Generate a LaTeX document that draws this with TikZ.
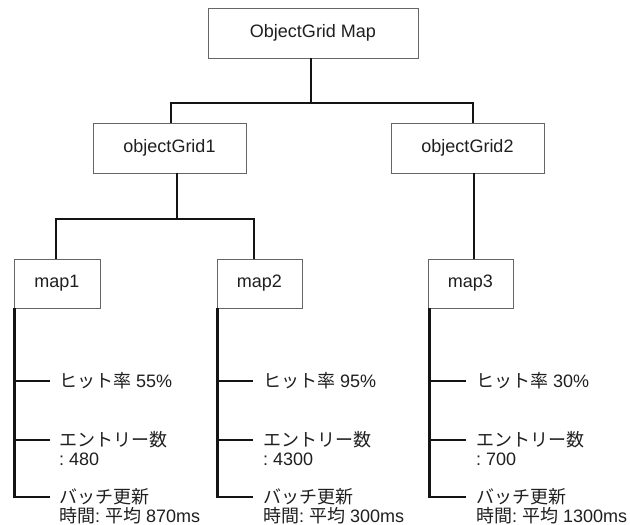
\documentclass[tikz,border=0pt]{standalone}
\usepackage{fontspec}
\setmainfont{Liberation Sans}
\newfontfamily\jp{Noto Sans CJK JP}
\begin{document}
\begin{tikzpicture}[x=1pt,y=-1pt,
  box/.style={draw=black!60,line width=0.9pt,fill=white,inner sep=0pt,
    text=black!88,font=\fontsize{18}{20}\selectfont},
  link/.style={line width=2.4pt,draw=black!92,line join=miter},
  % the base anchor of a two-line item sits on its last line
  item/.style={anchor=base west,inner sep=0pt,align=left,text=black!88,
    font=\fontsize{18}{18.5}\selectfont\frenchspacing}]
\useasboundingbox (0,0) rectangle (630,525);

% tree of grids and maps
\node[box,minimum width=210pt,minimum height=50pt] (root) at (313,33) {ObjectGrid Map\hspace{18pt}};
\node[box,minimum width=153pt,minimum height=50pt] (og1) at (169.5,148) {objectGrid1};
\node[box,minimum width=153pt,minimum height=50pt] (og2) at (467.5,148) {objectGrid2};
\node[box,minimum width=86pt,minimum height=49pt] (map1) at (57,283.5) {map1};
\node[box,minimum width=85pt,minimum height=49pt] (map2) at (259.5,283.5) {map2};
\node[box,minimum width=85pt,minimum height=49pt] (map3) at (470.5,283.5) {map3};

\coordinate (j0) at (311,103);
\coordinate (j1) at (177,219);
\draw[link] ([xshift=-2pt]root.south) -- (j0);
\draw[link] ([xshift=1.5pt]og1.north) |- (j0) -| ([xshift=5.5pt]og2.north);
\draw[link] ([xshift=7.5pt]og1.south) -- (j1);
\draw[link] ([xshift=-1pt]map1.north) |- (j1) -| ([xshift=-5.5pt]map2.north);
\draw[link] ([xshift=6.5pt]og2.south) -- ([xshift=3.5pt]map3.north);

% statistics of map1
\coordinate (e11) at (50,381);
\coordinate (e12) at (50,440);
\coordinate (e13) at (50,497);
\node[item] (t11) at (59,387.8) {{\jp ヒット率} 55\%};
\node[item] (t12) at (59,465.3) {{\jp エントリー数}\\: 480};
\node[item] (t13) at (59,522.3) {{\jp バッチ更新}\\{\jp 時間}: {\jp 平均} 870ms};
\draw[link] ([xshift=1pt]map1.south west) |- (e11);
\draw[link] ([xshift=1pt]map1.south west) |- (e12);
\draw[link] ([xshift=1pt]map1.south west) |- (e13);

% statistics of map2
\coordinate (e21) at (253,381);
\coordinate (e22) at (253,440);
\coordinate (e23) at (253,497);
\node[item] (t21) at (263,387.8) {{\jp ヒット率} 95\%};
\node[item] (t22) at (263,465.3) {{\jp エントリー数}\\: 4300};
\node[item] (t23) at (263,522.3) {{\jp バッチ更新}\\{\jp 時間}: {\jp 平均} 300ms};
\draw[link] ([xshift=1pt]map2.south west) |- (e21);
\draw[link] ([xshift=1pt]map2.south west) |- (e22);
\draw[link] ([xshift=1pt]map2.south west) |- (e23);

% statistics of map3
\coordinate (e31) at (466,381);
\coordinate (e32) at (466,440);
\coordinate (e33) at (466,497);
\node[item] (t31) at (476,387.8) {{\jp ヒット率} 30\%};
\node[item] (t32) at (476,465.3) {{\jp エントリー数}\\: 700};
\node[item] (t33) at (476,522.3) {{\jp バッチ更新}\\{\jp 時間}: {\jp 平均} 1300ms};
\draw[link] ([xshift=2pt]map3.south west) |- (e31);
\draw[link] ([xshift=2pt]map3.south west) |- (e32);
\draw[link] ([xshift=2pt]map3.south west) |- (e33);
\end{tikzpicture}
\end{document}
